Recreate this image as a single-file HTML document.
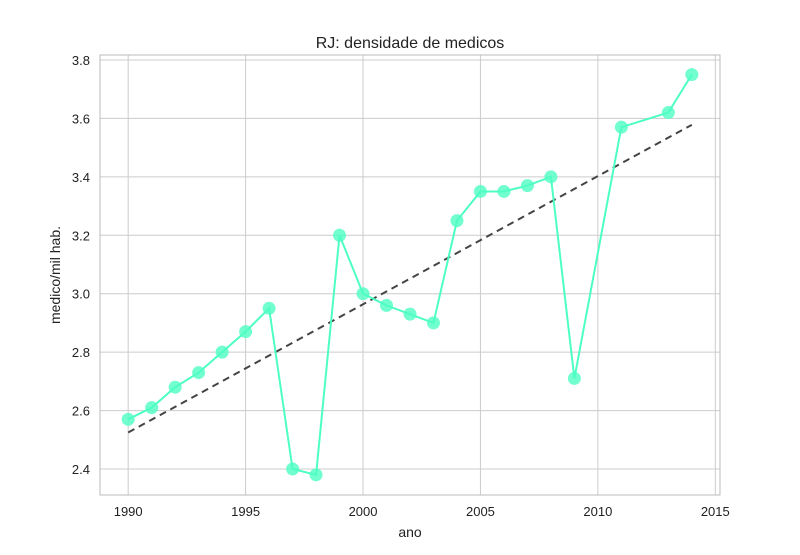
<!DOCTYPE html>
<html><head><meta charset="utf-8"><style>
body{margin:0;background:#fff;font-family:"Liberation Sans",sans-serif}
</style></head><body>
<svg id="chart" width="800" height="550" xmlns="http://www.w3.org/2000/svg" font-family="Liberation Sans, sans-serif"></svg>
<script>
const years=[1990,1991,1992,1993,1994,1995,1996,1997,1998,1999,2000,2001,2002,2003,2004,2005,2006,2007,2008,2009,2011,2013,2014];
const values=[2.57,2.61,2.68,2.73,2.80,2.87,2.95,2.40,2.38,3.20,3.00,2.96,2.93,2.90,3.25,3.35,3.35,3.37,3.40,2.71,3.57,3.62,3.75];
const trendYears=[1990,2014];
const trendValues=[2.525,3.578];
const xTicks=[1990,1995,2000,2005,2010,2015];
const yTicks=[2.4,2.6,2.8,3.0,3.2,3.4,3.6,3.8];
const L=100,R=720,T=55,B=495,x0=1988.8,x1=2015.2,y0=2.311,y1=3.817;
const sx=v=>L+(v-x0)/(x1-x0)*(R-L), sy=v=>B-(v-y0)/(y1-y0)*(B-T);
const svg=document.getElementById('chart');const NS='http://www.w3.org/2000/svg';
function mk(t,a,p){const e=document.createElementNS(NS,t);for(const k in a)e.setAttribute(k,a[k]);(p||svg).appendChild(e);return e;}
const bg=mk('rect',{x:L,y:T,width:R-L,height:B-T,fill:'#fff'});


xTicks.forEach(t=>{const g=mk('line',{x1:sx(t),x2:sx(t),y1:T,y2:B,stroke:'#cccccc','stroke-width':1});


const tx=mk('text',{x:sx(t),y:B+21,'text-anchor':'middle','font-size':13,fill:'#222'});tx.textContent=t;

});
yTicks.forEach(t=>{const g=mk('line',{x1:L,x2:R,y1:sy(t),y2:sy(t),stroke:'#cccccc','stroke-width':1});


const tx=mk('text',{x:L-10,y:sy(t)+5,'text-anchor':'end','font-size':13,fill:'#222'});tx.textContent=t.toFixed(1);

});
const fr=mk('rect',{x:L,y:T,width:R-L,height:B-T,fill:'none',stroke:'#bbbbbb','stroke-width':1});


const tr=mk('line',{x1:sx(trendYears[0]),y1:sy(trendValues[0]),x2:sx(trendYears[1]),y2:sy(trendValues[1]),stroke:'#444','stroke-width':2,'stroke-dasharray':'7,5'});


const ln=mk('polyline',{points:years.map((y,i)=>sx(y)+','+sy(values[i])).join(' '),fill:'none',stroke:'#4dffc3','stroke-width':2});


years.forEach((y,i)=>{const c=mk('circle',{cx:sx(y),cy:sy(values[i]),r:6.5,fill:'#4dffc3','fill-opacity':0.8});

});
const t1=mk('text',{x:410,y:48,'text-anchor':'middle','font-size':16,fill:'#222'});t1.textContent='RJ: densidade de medicos';


const t2=mk('text',{x:410,y:537,'text-anchor':'middle','font-size':14,fill:'#222'});t2.textContent='ano';


const t3=mk('text',{x:60,y:275,'text-anchor':'middle','font-size':14,fill:'#222',transform:'rotate(-90 60 275)'});t3.textContent='medico/mil hab.';


</script></body></html>
